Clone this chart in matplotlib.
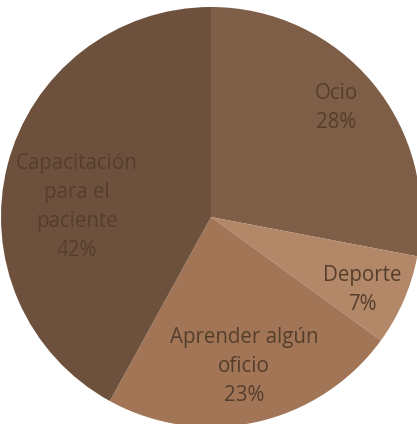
import matplotlib
matplotlib.use("Agg")
import matplotlib.pyplot as plt
import numpy as np

categories = ["Ocio", "Deporte", "Aprender algún\noficio", "Capacitación\npara el\npaciente"]
values = [28, 7, 23, 42]
pct_labels = ["28%", "7%", "23%", "42%"]
colors = ["#7E5E47", "#B28868", "#A17556", "#6D513D"]

W, H = 417, 424
fig = plt.figure(figsize=(W / 100, H / 100), dpi=100)
ax = fig.add_axes([0, 0, 1, 1])

R = 210.0
cx, cy = 211.0, 424 - 217.0
ax.pie(values, colors=colors, startangle=90, counterclock=False,
       radius=1.0, wedgeprops=dict(edgecolor="none", linewidth=0))
ax.set_xlim(-cx / R, (W - cx) / R)
ax.set_ylim(-cy / R, (H - cy) / R)
ax.set_aspect("equal")
ax.axis("off")

# label positions (radius fraction, angle in degrees)
label_pos = [(0.79, 41.0), (0.80, -25.8), (0.73, -77.5), (0.64, 175.7)]
txtcol = "#563E2C"
for cat, pct, (r, a) in zip(categories, pct_labels, label_pos):
    x = r * np.cos(np.radians(a))
    y = r * np.sin(np.radians(a))
    ax.text(x, y, f"{cat}\n{pct}", ha="center", va="center", fontsize=14.8,
            color=txtcol, family=["Open Sans", "DejaVu Sans"], linespacing=1.5)

fig.savefig("out.png", dpi=100, facecolor="white")
